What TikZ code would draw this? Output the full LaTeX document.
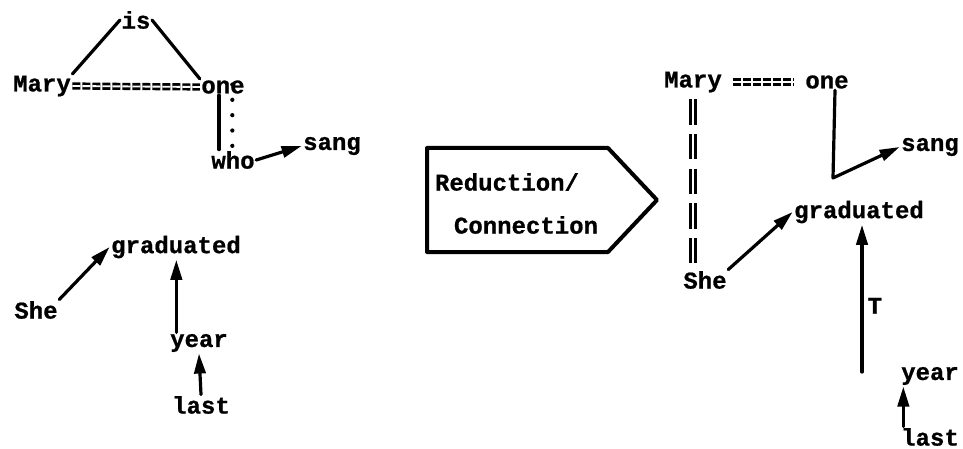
\documentclass[tikz,border=0pt]{standalone}
\usepackage{fontspec}
\newfontfamily\typefont{Liberation Mono}[BoldFeatures={FakeBold=0.8}]
\usetikzlibrary{arrows.meta}
\tikzset{
  word/.style={font=\typefont\bfseries\fontsize{18}{20}\selectfont, inner sep=1pt},
  ln/.style={line width=2.4pt, line cap=round},
  arr/.style={ln, -{Triangle[length=15pt,width=8.5pt]}},
  eqline/.style={double, double distance=1.4pt, line width=2pt, dash pattern=on 6pt off 1.5pt},
  vdbl/.style={double, double distance=2.2pt, line width=2.2pt, dash pattern=on 19pt off 7pt},
  dotline/.style={line width=3.2pt, line cap=round, dash pattern=on 0pt off 11.5pt},
  sign/.style={line width=3pt, line join=round}
}
\begin{document}
\begin{tikzpicture}[x=0.75pt,y=-0.75pt]
\useasboundingbox (0,0) rectangle (963,449);
% ---- left: first sentence
\node[word] (is) at (136,20) {is};
\node[word] (mary) at (42,86) {Mary};
\node[word] (one) at (223,87) {one};
\node[word] (who) at (233,160) {who};
\node[word] (sang) at (332,146) {sang};
\draw[ln] (mary.north east) -- (is.west);
\draw[ln] (is.east) -- (one.north west);
\draw[eqline] (mary.east) -- (one.west);
\draw[ln] ([xshift=-3]one.south) -- ([xshift=-3]one.south |- who.north);
\draw[dotline] ([xshift=7,yshift=8]one.south) -- ([xshift=7,yshift=1]one.south |- who.north);
\draw[arr] (who.east) -- (sang.west);
% ---- left: second sentence
\node[word] (grad) at (176,247) {graduated};
\node[word] (she) at (36,310) {She};
\node[word] (year) at (199,343) {year};
\node[word] (last) at (201,405) {last};
\draw[arr] (she.north east) -- (grad.west);
\draw[arr] ([xshift=-17]year.north) -- ([xshift=-17]year.north |- grad.south);
\draw[arr] (last.north) -- (year.south);
% ---- middle sign
\draw[sign] (427,148) -- (608,148) -- (657,200) -- (608,252) -- (427,252) -- cycle;
\node[word] (red) at (507,182) {Reduction/};
\node[word] (con) at (526,225) {Connection};
% ---- right
\node[word] (mary2) at (693,82) {Mary};
\node[word] (one2) at (827,82) {one};
\node[word] (sang2) at (930,147) {sang};
\node[word] (grad2) at (859,212) {graduated};
\node[word] (she2) at (705,280) {She};
\node[word] (year2) at (930,376) {year};
\node[word] (last2) at (930,437) {last};
\draw[eqline, shorten <=7pt, shorten >=7pt] (mary2.east) -- (one2.west);
\draw[vdbl] ([yshift=-4]mary2.south) -- ([yshift=1]mary2.south |- she2.north);
\coordinate (bend) at (833,178);
\draw[arr, line join=round] ([xshift=6]one2.south) -- (bend) -- (sang2.west);
\draw[arr] (she2.north east) -- (grad2.west);
\coordinate (tstart) at (862,372);
\draw[arr] (tstart) -- (tstart |- grad2.south) node[word, pos=0.45, right=2pt] (T) {T};
\draw[arr] ([xshift=-20]last2.north) -- ([xshift=-20]year2.south);
\end{tikzpicture}
\end{document}
